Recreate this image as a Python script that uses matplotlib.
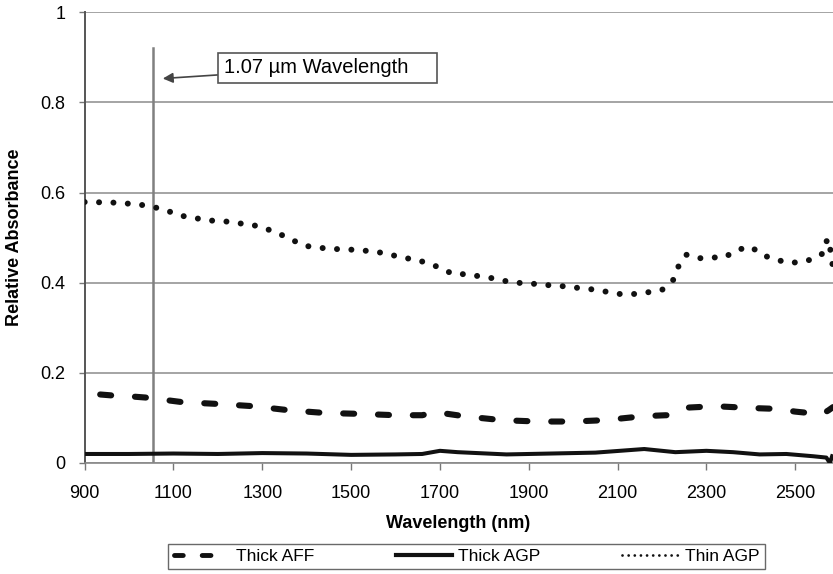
import numpy as np
import matplotlib
matplotlib.use("Agg")
import matplotlib.pyplot as plt

plt.rcParams['font.family'] = ['Liberation Sans', 'DejaVu Sans']

# Thin AGP (dotted)
thin_agp_nm = [900, 960, 1020, 1055, 1085, 1115, 1145, 1180, 1210, 1245, 1275, 1305, 1335,
               1365, 1395, 1425, 1455, 1490, 1520, 1555, 1585, 1615, 1650, 1680, 1700, 1730,
               1760, 1790, 1825, 1855, 1885, 1920, 1950, 1980, 2015, 2045, 2075, 2105, 2140,
               2170, 2200, 2225, 2237, 2255, 2280, 2310, 2340, 2370, 2400, 2425, 2450, 2485,
               2515, 2545, 2565, 2572, 2578, 2582, 2585]
thin_agp = [0.579, 0.578, 0.574, 0.568, 0.560, 0.549, 0.544, 0.538, 0.537, 0.532, 0.529, 0.521,
            0.510, 0.496, 0.482, 0.478, 0.475, 0.474, 0.472, 0.469, 0.463, 0.456, 0.450, 0.441,
            0.433, 0.419, 0.419, 0.414, 0.409, 0.402, 0.399, 0.397, 0.394, 0.392, 0.388, 0.385,
            0.380, 0.375, 0.375, 0.379, 0.384, 0.406, 0.436, 0.462, 0.454, 0.456, 0.456, 0.473,
            0.480, 0.462, 0.453, 0.444, 0.446, 0.454, 0.467, 0.498, 0.481, 0.450, 0.435]

# Thick AFF (dashed)
thick_aff_nm = [935, 960, 1000, 1040, 1080, 1120, 1200, 1280, 1360, 1440, 1520, 1600, 1660,
                1690, 1710, 1760, 1840, 1920, 2000, 2070, 2100, 2160, 2210, 2235, 2260, 2320,
                2400, 2460, 2500, 2540, 2560, 2575, 2585]
thick_aff = [0.152, 0.150, 0.148, 0.145, 0.140, 0.135, 0.131, 0.126, 0.117, 0.111, 0.109, 0.106,
             0.106, 0.113, 0.110, 0.103, 0.095, 0.092, 0.092, 0.095, 0.098, 0.104, 0.106, 0.112,
             0.123, 0.126, 0.122, 0.120, 0.114, 0.110, 0.108, 0.117, 0.124]

# Thick AGP (solid)
thick_agp_nm = [900, 1000, 1100, 1200, 1300, 1400, 1500, 1600, 1660, 1700, 1740, 1850, 1950,
                2050, 2160, 2230, 2300, 2360, 2420, 2480, 2540, 2570, 2578, 2583]
thick_agp = [0.020, 0.020, 0.021, 0.020, 0.022, 0.021, 0.018, 0.019, 0.020, 0.027, 0.024, 0.019,
             0.021, 0.023, 0.031, 0.024, 0.027, 0.024, 0.019, 0.020, 0.015, 0.012, 0.000, 0.015]

marker_nm = 1055
xticks = [900, 1100, 1300, 1500, 1700, 1900, 2100, 2300, 2500]
yticks = [0, 0.2, 0.4, 0.6, 0.8, 1]

fig = plt.figure(figsize=(8.33, 5.74), dpi=100)
ax = fig.add_axes([0.1016, 0.1934, 0.8984, 0.7852])

for yv in yticks:
    ax.axhline(yv, color='#8c8c8c', lw=1.1, zorder=1)

ax.plot([marker_nm, marker_nm], [0, 0.92], color='#808080', lw=1.8, zorder=2)

l1, = ax.plot(thick_aff_nm, thick_aff, color='#111111', lw=4.4,
              dash_capstyle='round', label='Thick AFF', zorder=3)
l1.set_dashes((1.8, 3.9))
l2, = ax.plot(thick_agp_nm, thick_agp, color='#111111', lw=2.9, label='Thick AGP', zorder=3)
l3, = ax.plot(thin_agp_nm, thin_agp, color='#111111', lw=4.3, dash_capstyle='round',
              label='Thin AGP', zorder=3)
l3.set_dashes((0.01, 2.4))

ax.annotate('1.07 µm Wavelength    ', xy=(1076, 0.853), xytext=(1214, 0.877),
            fontsize=14.5, va='center', ha='left',
            bbox=dict(boxstyle='square,pad=0.28', fc='white', ec='#555555', lw=1.2),
            arrowprops=dict(arrowstyle='-|>', color='#444444', lw=1.2,
                            mutation_scale=15, shrinkA=0, shrinkB=0))

ax.set_xlim(900, 2585)
ax.set_ylim(0, 1)
ax.set_xticks(xticks)
ax.set_xticklabels([str(v) for v in xticks])
ax.set_yticks(yticks)
ax.set_yticklabels(['0', '0.2', '0.4', '0.6', '0.8', '1'])
ax.tick_params(axis='x', length=5, width=1, color='#777777', pad=11, labelsize=13)
ax.tick_params(axis='y', length=4, width=1, color='#777777', pad=10, labelsize=13)

for s in ['top', 'right']:
    ax.spines[s].set_visible(False)
ax.spines['left'].set_color('#555555')
ax.spines['left'].set_linewidth(1.4)
ax.spines['bottom'].set_color('#888888')
ax.spines['bottom'].set_linewidth(1.2)

ax.set_xlabel('Wavelength (nm)', fontsize=13, fontweight='bold')
ax.xaxis.set_label_coords(0.499, -0.115)
ax.set_ylabel('Relative Absorbance', fontsize=13, fontweight='bold')
ax.yaxis.set_label_coords(-0.082, 0.5)

leg = fig.legend(handles=[l1, l2, l3], loc='center', bbox_to_anchor=(0.560, 0.0305),
                 ncol=3, frameon=True, fancybox=False, fontsize=12.5, handlelength=3.2,
                 handletextpad=0.4, columnspacing=4.7, borderpad=0.3, borderaxespad=0)
leg.get_frame().set_edgecolor('#444444')
leg.get_frame().set_linewidth(1.0)
for h in leg.legend_handles:
    if h.get_label() == 'Thin AGP':
        h.set_linewidth(2.0)
        h.set_dashes((0.01, 2.2))
    elif h.get_label() == 'Thick AFF':
        h.set_linewidth(3.5)
    else:
        h.set_linewidth(3.0)

fig.savefig('out.png', dpi=100)
